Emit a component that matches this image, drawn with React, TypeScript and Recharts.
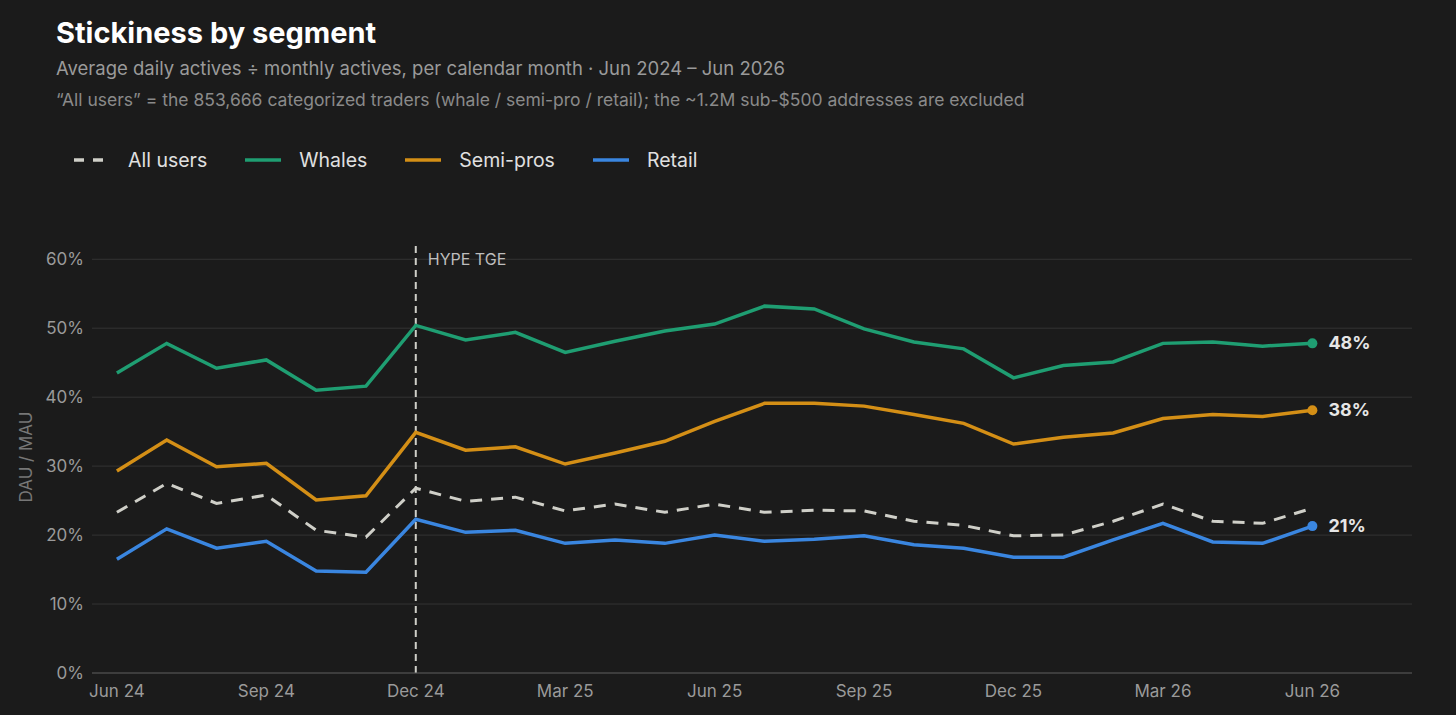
import React from "react";
import { LineChart, Line, XAxis, YAxis, CartesianGrid, ReferenceLine } from "recharts";

const months = ["Jun 24","Jul 24","Aug 24","Sep 24","Oct 24","Nov 24","Dec 24","Jan 25","Feb 25","Mar 25","Apr 25","May 25","Jun 25","Jul 25","Aug 25","Sep 25","Oct 25","Nov 25","Dec 25","Jan 26","Feb 26","Mar 26","Apr 26","May 26","Jun 26"];
const whales = [43.5,47.8,44.2,45.4,41.0,41.6,50.4,48.3,49.4,46.5,48.1,49.6,50.6,53.2,52.8,49.9,48.0,47.0,42.8,44.6,45.1,47.8,48.0,47.4,47.8];
const semiPros = [29.3,33.8,29.9,30.4,25.1,25.7,34.9,32.3,32.8,30.3,31.9,33.6,36.5,39.1,39.1,38.7,37.5,36.2,33.2,34.2,34.8,36.9,37.5,37.2,38.1];
const allUsers = [23.3,27.5,24.6,25.8,20.7,19.7,26.8,24.9,25.5,23.5,24.5,23.3,24.5,23.3,23.6,23.5,22.0,21.4,19.9,20.0,22.0,24.5,22.0,21.7,23.9];
const retail = [16.5,20.9,18.1,19.1,14.8,14.6,22.3,20.4,20.7,18.8,19.3,18.8,20.0,19.1,19.4,19.9,18.6,18.1,16.8,16.8,19.3,21.7,19.0,18.8,21.3];
const xTicks = [0,3,6,9,12,15,18,21,24];
const yTicks = [0,10,20,30,40,50,60];

const C = { whale: "#1f9e72", semi: "#d48f16", retail: "#3a86e0", all: "#cfcfc8" };
const data = months.map((m, i) => ({ i, m, whales: whales[i], semi: semiPros[i], all: allUsers[i], retail: retail[i] }));
const last = months.length - 1;

const endDot = (color: string) => (p: any) =>
  p.index === last ? (
    <g key={"d" + p.index}>
      <circle cx={p.cx} cy={p.cy} r={5} fill={color} />
      <text x={p.cx + 16} y={p.cy + 6} fill="#e6e6e6" fontSize={18} fontWeight={700}>{Math.round(p.value)}%</text>
    </g>
  ) : <g key={"d" + p.index} />;

const font = "Inter, 'Noto Sans', sans-serif";

export default function App() {
  const legend = [
    { l: "All users", c: C.all, dash: true },
    { l: "Whales", c: C.whale },
    { l: "Semi-pros", c: C.semi },
    { l: "Retail", c: C.retail },
  ];
  return (
    <div style={{ position: "absolute", left: 0, top: 0, width: 1456, height: 715, background: "#1b1b1b", fontFamily: font, overflow: "hidden" }}>
      <div style={{ position: "absolute", left: 56, top: 15, fontSize: 29, fontWeight: 700, color: "#fff" }}>Stickiness by segment</div>
      <div style={{ position: "absolute", left: 56, top: 57, fontSize: 18.5, color: "#9a9a9a" }}>Average daily actives ÷ monthly actives, per calendar month · Jun 2024 – Jun 2026</div>
      <div style={{ position: "absolute", left: 56, top: 89, fontSize: 17.5, color: "#8a8a8a" }}>“All users” = the 853,666 categorized traders (whale / semi-pro / retail); the ~1.2M sub-$500 addresses are excluded</div>
      <div style={{ position: "absolute", left: 74, top: 148, display: "flex", gap: 38, fontSize: 19.5, color: "#e0e0e0" }}>
        {legend.map((g) => (
          <div key={g.l} style={{ display: "flex", alignItems: "center", gap: 18 }}>
            <svg width={36} height={6}><line x1={0} y1={3} x2={36} y2={3} stroke={g.c} strokeWidth={3.5} strokeDasharray={g.dash ? "10 9" : undefined} /></svg>
            <span>{g.l}</span>
          </div>
        ))}
      </div>
      <div style={{ position: "absolute", left: 0, top: 0 }}>
        <LineChart width={1456} height={715} data={data} margin={{ top: 242, right: 44, bottom: 12, left: 22 }}>
          <CartesianGrid vertical={false} stroke="#343434" horizontalValues={yTicks} />
          <XAxis dataKey="i" type="number" domain={[-0.5, 26]} ticks={xTicks} tickFormatter={(v) => months[v]} axisLine={{ stroke: "#555" }} tickLine={false} height={30} tick={{ fill: "#9a9a9a", fontSize: 17, fontFamily: font }} tickMargin={6} />
          <YAxis domain={[0, 62.5]} ticks={yTicks} tickFormatter={(v) => v + "%"} axisLine={false} tickLine={false} width={70} tick={{ fill: "#9a9a9a", fontSize: 17, fontFamily: font }} />
          <ReferenceLine x={6} stroke="#cfcfc8" strokeWidth={2} strokeDasharray="7 5"
            label={{ value: "HYPE TGE", position: "insideTopLeft", fill: "#bdbdbd", fontSize: 16, fontFamily: font, offset: 12 }} />
          <Line dataKey="whales" stroke={C.whale} strokeWidth={3.5} dot={endDot(C.whale)} isAnimationActive={false} />
          <Line dataKey="semi" stroke={C.semi} strokeWidth={3.5} dot={endDot(C.semi)} isAnimationActive={false} />
          <Line dataKey="all" stroke={C.all} strokeWidth={3} strokeDasharray="12 9" dot={false} isAnimationActive={false} />
          <Line dataKey="retail" stroke={C.retail} strokeWidth={3.5} dot={endDot(C.retail)} isAnimationActive={false} />
          <text x={32} y={457} transform="rotate(-90 32 457)" textAnchor="middle" fill="#777" fontSize={17} fontFamily={font}>DAU / MAU</text>
        </LineChart>
      </div>
    </div>
  );
}
